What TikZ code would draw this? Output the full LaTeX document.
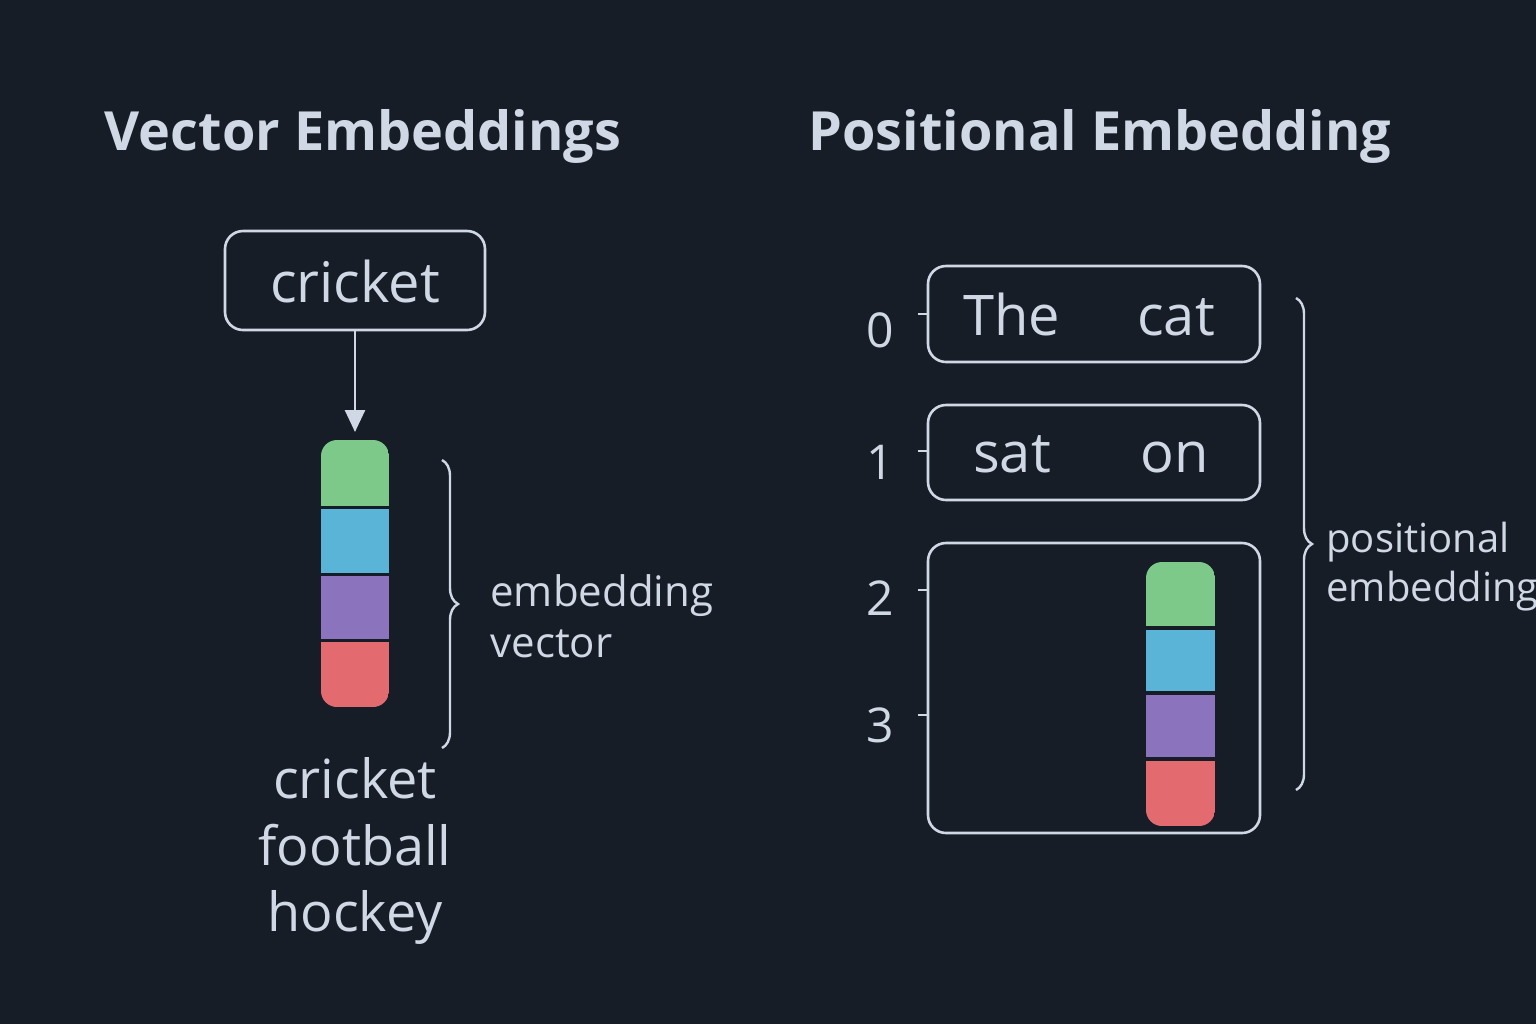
\documentclass[tikz,border=0pt]{standalone}
\usepackage{fontspec}
\setmainfont{Open Sans}
\usetikzlibrary{decorations.pathreplacing,arrows.meta}
\definecolor{bg}{HTML}{161D27}
\definecolor{fg}{HTML}{D0D8E6}
\definecolor{cg}{HTML}{7DC98A}
\definecolor{cb}{HTML}{5AB4D8}
\definecolor{cp}{HTML}{8B74BD}
\definecolor{cr}{HTML}{E36B70}
\begin{document}
\begin{tikzpicture}[x=0.5pt,y=-0.5pt,
  box/.style={draw=fg,line width=1.3pt,rounded corners=9pt},
  txt/.style={text=fg,inner sep=0pt,anchor=base},
  cell/.style={inner sep=0pt,minimum width=34.5pt,minimum height=31.5pt},
  br/.style={draw=fg,line width=1.2pt,decorate,decoration={brace,amplitude=8pt}}]
\fill[bg] (0,0) rectangle (1536,1024);
\useasboundingbox (0,0) rectangle (1536,1024);
% titles
\node[txt,font=\fontsize{27}{30}\selectfont\bfseries] (t1) at (363,150) {Vector Embeddings};
\node[txt,font=\fontsize{27}{30}\selectfont\bfseries] (t2) at (1100,150) {Positional Embedding};
% left
\draw[box] (225,231) rectangle (485,330);
\node[txt,font=\fontsize{28}{30}\selectfont] (cw) at (355,302) {cricket};
\coordinate (atop) at (355,330);
\coordinate (abot) at (355,432);
\draw[fg,line width=1.3pt,-{Triangle[length=11pt,width=10pt]}] (atop) -- (abot);
\begin{scope}
\clip[rounded corners=8pt] (321,440) rectangle (389,707);
\fill[cg] (321,440) rectangle (389,506);
\fill[cb] (321,509) rectangle (389,573);
\fill[cp] (321,576) rectangle (389,639);
\fill[cr] (321,642) rectangle (389,707);
\end{scope}
\node[cell] (v1) at (355,603) {};
\draw[br] (442,460) -- (442,748);
\node[txt,anchor=base west,font=\fontsize{21}{24}\selectfont] (e1) at (490,606) {embedding};
\node[txt,anchor=base west,font=\fontsize{21}{24}\selectfont] (e2) at (490,657) {vector};
\node[txt,font=\fontsize{27}{30}\selectfont] (w1) at (355,798) {cricket};
\node[txt,font=\fontsize{27}{30}\selectfont] (w2) at (355,865) {football};
\node[txt,font=\fontsize{27}{30}\selectfont] (w3) at (355,931) {hockey};
% right
\draw[box] (928,266) rectangle (1260,362);
\draw[box] (928,405) rectangle (1260,500);
\draw[box] (928,543) rectangle (1260,833);
\node[txt,font=\fontsize{28}{30}\selectfont] (the) at (1012,335) {The};
\node[txt,font=\fontsize{28}{30}\selectfont] (cat) at (1176,335) {cat};
\node[txt,font=\fontsize{28}{30}\selectfont] (sat) at (1012,472) {sat};
\node[txt,font=\fontsize{28}{30}\selectfont] (on) at (1175,472) {on};
\begin{scope}
\clip[rounded corners=8pt] (1146,562) rectangle (1215,826);
\fill[cg] (1146,562) rectangle (1215,626);
\fill[cb] (1146,630) rectangle (1215,691);
\fill[cp] (1146,695) rectangle (1215,757);
\fill[cr] (1146,761) rectangle (1215,826);
\end{scope}
\foreach \n/\y/\t in {0/347/314,1/479/451,2/615/590,3/742/715}{
  \node[txt,font=\fontsize{24}{26}\selectfont] (n\n) at (880,\y) {\n};
  \coordinate (k\n) at (918,\t);
  \draw[fg,line width=1.2pt] (k\n) -- ++(10,0);
}
\draw[br] (1296,298) -- (1296,790);
\node[txt,anchor=base west,font=\fontsize{20}{24}\selectfont] (p1) at (1326,552) {positional};
\node[txt,anchor=base west,font=\fontsize{20}{24}\selectfont] (p2) at (1326,601) {embedding};
\end{tikzpicture}
\end{document}
